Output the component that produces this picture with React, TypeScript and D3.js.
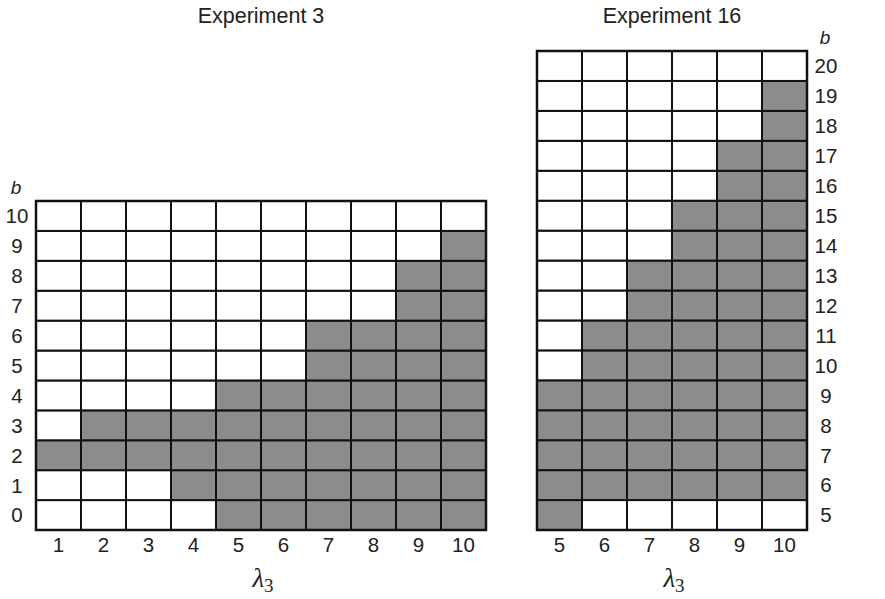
import React from 'react';
import * as d3 from 'd3';

// Experiment 3: columns lambda_3 = 1..10, rows b = 0..10
const exp3Lambda = [1, 2, 3, 4, 5, 6, 7, 8, 9, 10];
const exp3B = [0, 1, 2, 3, 4, 5, 6, 7, 8, 9, 10];
// shaded range of b for each lambda column
const exp3Low = [2, 2, 2, 1, 0, 0, 0, 0, 0, 0];
const exp3High = [2, 3, 3, 3, 4, 4, 6, 6, 8, 9];

// Experiment 16: columns lambda_3 = 5..10, rows b = 5..20
const exp16Lambda = [5, 6, 7, 8, 9, 10];
const exp16B = [5, 6, 7, 8, 9, 10, 11, 12, 13, 14, 15, 16, 17, 18, 19, 20];
const exp16Low = [5, 6, 6, 6, 6, 6];
const exp16High = [9, 11, 13, 15, 17, 19];

const W = 885;
const H = 599;
const GRAY = '#8c8c8c';
const LINE = '#111';
const TEXT = '#222';
const FONT = '"Liberation Sans", Arial, sans-serif';

type PanelProps = {
  title: string;
  lambdas: number[];
  bs: number[];
  low: number[];
  high: number[];
  x0: number;
  x1: number;
  y0: number;
  y1: number;
  labelX: number;
};

const Panel = ({ title, lambdas, bs, low, high, x0, x1, y0, y1, labelX }: PanelProps) => {
  const x = d3.scaleBand<number>().domain(lambdas).range([x0, x1]);
  const y = d3.scaleBand<number>().domain(bs.slice().reverse()).range([y0, y1]);
  const cx = (x0 + x1) / 2;

  const cells = lambdas.flatMap((l, i) =>
    bs.map((b) => ({ l, b, on: b >= low[i] && b <= high[i] }))
  );

  return (
    <g>
      <text x={cx} y={23} textAnchor="middle" fontFamily={FONT} fontSize={21.5} fill={TEXT}>
        {title}
      </text>
      {cells.map((c) => (
        <rect
          key={`${c.l}-${c.b}`}
          x={x(c.l)}
          y={y(c.b)}
          width={x.bandwidth()}
          height={y.bandwidth()}
          fill={c.on ? GRAY : '#fff'}
          stroke={LINE}
          strokeWidth={2}
        />
      ))}
      <rect x={x0} y={y0} width={x1 - x0} height={y1 - y0} fill="none" stroke={LINE} strokeWidth={2.5} />
      {lambdas.map((l) => (
        <text
          key={l}
          x={(x(l) ?? 0) + x.bandwidth() / 2}
          y={y1 + 22}
          textAnchor="middle"
          fontFamily={FONT}
          fontSize={20.5}
          fill={TEXT}
        >
          {l}
        </text>
      ))}
      {bs.map((b) => (
        <text
          key={b}
          x={labelX}
          y={(y(b) ?? 0) + y.bandwidth() / 2}
          dy="0.36em"
          textAnchor="middle"
          fontFamily={FONT}
          fontSize={20.5}
          fill={TEXT}
        >
          {b}
        </text>
      ))}
      <text
        x={labelX - 1}
        y={y0 - 7}
        textAnchor="middle"
        fontFamily={FONT}
        fontStyle="italic"
        fontSize={19}
        fill={TEXT}
      >
        b
      </text>
      <text x={cx + 2} y={587} textAnchor="middle" fontFamily='"Liberation Serif", "DejaVu Serif", serif' fontSize={27} fill={TEXT}>
        <tspan fontStyle="italic">λ</tspan>
        <tspan fontSize={19} dy={5}>3</tspan>
      </text>
    </g>
  );
};

export default function App() {
  return (
    <svg
      width={W}
      height={H}
      style={{ position: 'absolute', left: 0, top: 0, background: '#fff' }}
    >
      <Panel
        title="Experiment 3"
        lambdas={exp3Lambda}
        bs={exp3B}
        low={exp3Low}
        high={exp3High}
        x0={36}
        x1={486}
        y0={201}
        y1={530}
        labelX={17}
      />
      <Panel
        title="Experiment 16"
        lambdas={exp16Lambda}
        bs={exp16B}
        low={exp16Low}
        high={exp16High}
        x0={537}
        x1={807}
        y0={51}
        y1={530}
        labelX={826}
      />
    </svg>
  );
}
